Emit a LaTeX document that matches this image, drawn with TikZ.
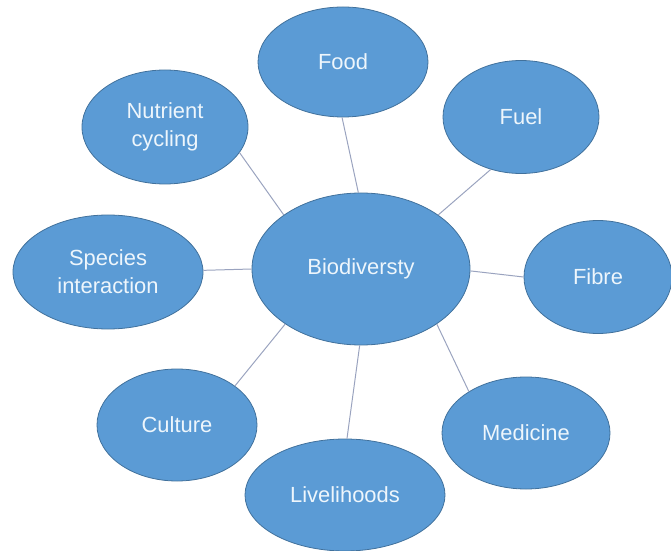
\documentclass[tikz,border=0pt]{standalone}
\usepackage{fontspec}
\setmainfont{Liberation Sans}
\usepackage{xcolor}
\usepackage{tikz}
\usetikzlibrary{shapes.geometric}
\definecolor{bd-fill}{HTML}{5B9BD5}
\definecolor{bd-edge}{HTML}{41719C}
\definecolor{bd-line}{HTML}{9AA3BF}
\definecolor{bd-text}{HTML}{EEF6FC}

\begin{document}
\begin{tikzpicture}[
			x=1bp, y=-1bp,
			topic/.style={
				ellipse, draw=bd-edge, fill=bd-fill, line width=0.8pt,
				inner sep=0pt, align=center,
				font=\fontsize{22}{28}\selectfont\color{bd-text}
			},
			link/.style={draw=bd-line, line width=1pt}
			]
			\useasboundingbox (0,0) rectangle (671,551);
			% centre
			\node[topic, minimum width=218bp, minimum height=152bp] (bio) at (361,269) {Biodiversty};
			% services round it
			\node[topic, minimum width=170bp, minimum height=110bp] (food) at (343,62) {Food};
			\node[topic, minimum width=156bp, minimum height=113bp] (fuel) at (521,117) {Fuel};
			\node[topic, minimum width=148bp, minimum height=113bp] (fibre) at (598,277) {Fibre};
			\node[topic, minimum width=168bp, minimum height=112bp] (medicine) at (526,433) {Medicine};
			\node[topic, minimum width=200bp, minimum height=112bp] (livelihoods) at (345,495) {Livelihoods};
			\node[topic, minimum width=160bp, minimum height=112bp] (culture) at (177,425) {Culture};
			\node[topic, minimum width=190bp, minimum height=114bp] (species) at (108,272) {Species\\interaction};
			\node[topic, minimum width=166bp, minimum height=114bp] (nutrient) at (165,127) {Nutrient\\cycling};
			% spokes
			\draw[link] (bio.92) -- (food.-91);
			\draw[link] (bio.35) -- (fuel.-120);
			\draw[link] (bio.-1) -- (fibre.180);
			\draw[link] (bio.-36) -- (medicine.144);
			\draw[link] (bio.-91) -- (livelihoods.88);
			\draw[link] (bio.-144) -- (culture.34);
			\draw[link] (bio.180) -- (species.1);
			\draw[link] (bio.145) -- (nutrient.-19);
		\end{tikzpicture}
\end{document}
